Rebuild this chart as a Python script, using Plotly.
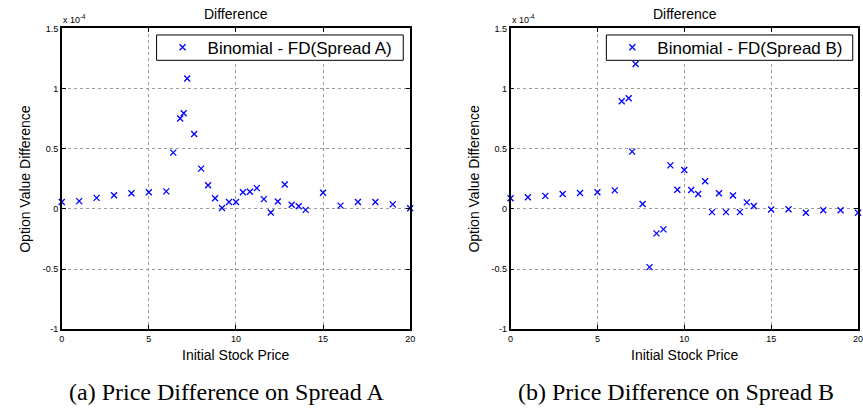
import plotly.graph_objects as go

# ---- data (values in units of 1e-4) ----
stock_price = [0, 1, 2, 3, 4, 5, 6, 6.4, 6.8, 7.0, 7.2, 7.6, 8, 8.4, 8.8, 9.2, 9.6, 10,
               10.4, 10.8, 11.2, 11.6, 12, 12.4, 12.8, 13.2, 13.6, 14, 15, 16, 17, 18, 19, 20]
diff_spread_a = [0.057, 0.065, 0.092, 0.114, 0.130, 0.138, 0.146, 0.468, 0.751, 0.795, 1.084,
                 0.622, 0.335, 0.197, 0.089, 0.008, 0.057, 0.057, 0.138, 0.143, 0.173, 0.081,
                 -0.030, 0.062, 0.203, 0.035, 0.022, -0.008, 0.135, 0.027, 0.057, 0.057, 0.038, 0.005]
diff_spread_b = [0.089, 0.097, 0.108, 0.124, 0.132, 0.138, 0.154, 0.895, 0.919, 0.476, 1.205,
                 0.041, -0.484, -0.203, -0.170, 0.362, 0.159, 0.324, 0.157, 0.124, 0.230, -0.027,
                 0.130, -0.027, 0.111, -0.027, 0.054, 0.024, -0.005, -0.003, -0.032, -0.011, -0.011, -0.032]

x_tickvals = [0, 5, 10, 15, 20]
y_tickvals = [-1, -0.5, 0, 0.5, 1, 1.5]
y_ticktext = ["-1", "-0.5", "0", "0.5", "1", "1.5"]
series_names = ["Binomial - FD(Spread A)", "Binomial - FD(Spread B)"]
captions = ["(a) Price Difference on Spread A", "(b) Price Difference on Spread B"]
panel_title = "Difference"
x_title = "Initial Stock Price"
y_title = "Option Value Difference"
exponent_label = "x 10<sup>-4</sup>"

# ---- layout helpers ----
W, H = 863, 412
def px(p):
    return p / W
def py(p):
    return 1 - p / H

FONT = "Liberation Sans, Arial, sans-serif"
SERIF = "Liberation Serif, Times New Roman, serif"
BLUE = "#0000ff"

fig = go.Figure()
fig.add_trace(go.Scatter(x=stock_price, y=diff_spread_a, mode="markers", name=series_names[0],
                         xaxis="x", yaxis="y", legend="legend", cliponaxis=False,
                         marker=dict(symbol="x-thin", size=6, color=BLUE,
                                     line=dict(width=1.3, color=BLUE))))
fig.add_trace(go.Scatter(x=stock_price, y=diff_spread_b, mode="markers", name=series_names[1],
                         xaxis="x2", yaxis="y2", legend="legend2", cliponaxis=False,
                         marker=dict(symbol="x-thin", size=6, color=BLUE,
                                     line=dict(width=1.3, color=BLUE))))

def xaxis_cfg(domain, anchor):
    return dict(domain=domain, anchor=anchor, range=[0, 20], tickvals=x_tickvals,
                ticks="inside", ticklen=4, tickcolor="black", showline=True, linecolor="black",
                linewidth=1.5, mirror="ticks", showgrid=True, gridcolor="#9a9a9a",
                griddash="dot", gridwidth=1, zeroline=False, ticklabeloverflow="allow",
                tickfont=dict(family=FONT, size=9, color="black"))

def yaxis_cfg(domain, anchor):
    return dict(domain=domain, anchor=anchor, range=[-1, 1.5], tickvals=y_tickvals,
                ticktext=y_ticktext, ticks="inside", ticklen=4, tickcolor="black",
                showline=True, linecolor="black", linewidth=1.5, mirror="ticks",
                showgrid=True, gridcolor="#9a9a9a", griddash="dot", gridwidth=1, zeroline=False,
                tickfont=dict(family=FONT, size=9, color="black"))

def legend_cfg(left):
    return dict(x=px(left), y=py(43.7), xanchor="left", yanchor="middle",
                bgcolor="rgba(0,0,0,0)", borderwidth=0, itemwidth=40,
                font=dict(family=FONT, size=17, color="black"))

ydom = [py(332.3), py(24)]
fig.update_layout(
    width=W, height=H, margin=dict(l=0, r=0, t=0, b=0),
    paper_bgcolor="white", plot_bgcolor="white",
    xaxis=xaxis_cfg([px(59.3), px(411)], "y"),
    yaxis=yaxis_cfg(ydom, "x"),
    xaxis2=xaxis_cfg([px(512.3), 1.0], "y2"),
    yaxis2=yaxis_cfg(ydom, "x2"),
    legend=legend_cfg(156),
    legend2=legend_cfg(610),
    showlegend=True,
)

shapes = []
for bx0, bx1 in [(155, 404), (609, 857.7)]:
    shapes.append(dict(type="rect", xref="paper", yref="paper", x0=px(bx0), x1=px(bx1),
                       y0=py(56.7), y1=py(30.7), layer="above", fillcolor="white",
                       line=dict(color="black", width=1)))
fig.update_layout(shapes=shapes)

annotations = []
for cx, ax_left, cap_x in [(235, 59.3, 226), (688, 512.3, 679)]:
    annotations.append(dict(text=panel_title, x=px(cx), y=py(9), xref="paper", yref="paper",
                            xanchor="center", yanchor="middle", showarrow=False,
                            font=dict(family=FONT, size=14, color="black")))
    annotations.append(dict(text=exponent_label, x=px(ax_left - 1), y=py(14), xref="paper",
                            yref="paper", xanchor="left", yanchor="middle", showarrow=False,
                            font=dict(family=FONT, size=9, color="black")))
    annotations.append(dict(text=x_title, x=px(cx), y=py(359), xref="paper", yref="paper",
                            xanchor="center", yanchor="middle", showarrow=False,
                            font=dict(family=FONT, size=14, color="black")))
    annotations.append(dict(text=y_title, x=px(ax_left - 37), y=py(178), xref="paper",
                            yref="paper", xanchor="center", yanchor="middle", showarrow=False,
                            textangle=-90, font=dict(family=FONT, size=14, color="black")))
for cap_x, cap in [(226, captions[0]), (679, captions[1])]:
    annotations.append(dict(text=cap, x=px(cap_x), y=py(397), xref="paper", yref="paper",
                            xanchor="center", yanchor="middle", showarrow=False,
                            font=dict(family=SERIF, size=24, color="black")))
fig.update_layout(annotations=annotations)

fig.write_html("out.html")
